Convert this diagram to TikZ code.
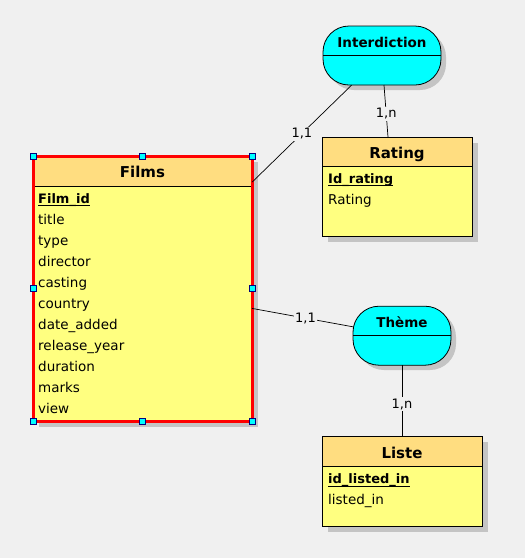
\documentclass[tikz,border=0pt]{standalone}
\usepackage{fontspec}
\setmainfont{DejaVu Sans}
\definecolor{bg}{RGB}{240,240,240}
\definecolor{hdr}{RGB}{255,221,128}
\definecolor{bodyc}{RGB}{255,255,128}
\definecolor{shd}{RGB}{196,196,196}
\definecolor{hnd}{RGB}{0,0,128}
\definecolor{aqua}{RGB}{0,255,255}
\tikzset{
  entity/.style={fill=bodyc, anchor=north west, inner sep=0pt, outer sep=0pt},
  assoc/.style={draw=black, line width=0.8pt, fill=aqua, rounded corners=26pt, inner sep=0pt, outer sep=0pt},
  row/.style={anchor=base west, inner sep=0pt, font=\fontsize{13.5}{16}\selectfont},
  keyrow/.style={anchor=base west, inner sep=0pt, font=\fontsize{13}{16}\selectfont\bfseries},
  ttl/.style={anchor=base, inner sep=0pt, font=\fontsize{15}{18}\selectfont\bfseries},
  attl/.style={anchor=base, inner sep=0pt, font=\fontsize{13.5}{16}\selectfont\bfseries},
  card/.style={fill=bg, inner sep=1.5pt, font=\fontsize{13}{16}\selectfont},
  link/.style={line width=0.7pt},
  handle/.style={draw=hnd, fill=aqua, line width=0.8pt, minimum size=6pt, inner sep=0pt}
}
\begin{document}
\begin{tikzpicture}[x=1pt,y=-1pt]
\fill[bg] (0,0) rectangle (525,558);
\useasboundingbox (0,0) rectangle (525,558);

% ---------- Films ----------
\fill[shd] (39,162) rectangle (258,427);
\node[entity, minimum width=219pt, minimum height=265pt] (films) at (33,156) {};
\fill[hdr] (films.north west) rectangle (252,186);
\draw[line width=0.8pt] (33,186) -- (252,186);
\node[ttl] (filmsT) at (142.5,177.5) {Films};
\node[keyrow] (fid) at (38,203) {Film\_id};
\draw[line width=0.9pt] ([yshift=-2.5pt]fid.base west) -- ([yshift=-2.5pt]fid.base east);
\foreach \t [count=\i] in {title,type,director,casting,country,date\_added,release\_year,duration,marks,view}
  \node[row] (fr\i) at (38,{203+21*\i}) {\t};
\draw[red, line width=3pt] (films.north west) rectangle (films.south east);
\foreach \a [count=\i] in {north west,north,north east,east,south east,south,south west,west}
  \node[handle] (h\i) at (films.\a) {};

% ---------- Rating ----------
\fill[shd] (328,143) rectangle (478,242);
\node[entity, minimum width=150pt, minimum height=99pt] (rating) at (322,137) {};
\fill[hdr] (rating.north west) rectangle (472,166);
\draw[line width=0.8pt] (322,166) -- (472,166);
\draw[line width=0.8pt] (rating.north west) rectangle (rating.south east);
\node[ttl] (ratingT) at (397,158.5) {Rating};
\node[keyrow] (rid) at (328,183) {Id\_rating};
\draw[line width=0.9pt] ([yshift=-2.5pt]rid.base west) -- ([yshift=-2.5pt]rid.base east);
\node[row] (rr1) at (328,204) {Rating};

% ---------- Liste ----------
\fill[shd] (328,442) rectangle (488,532);
\node[entity, minimum width=160pt, minimum height=90pt] (liste) at (322,436) {};
\fill[hdr] (liste.north west) rectangle (482,466);
\draw[line width=0.8pt] (322,466) -- (482,466);
\draw[line width=0.8pt] (liste.north west) rectangle (liste.south east);
\node[ttl] (listeT) at (402,458) {Liste};
\node[keyrow] (lid) at (328,483.5) {id\_listed\_in};
\draw[line width=0.9pt] ([yshift=-2.5pt]lid.base west) -- ([yshift=-2.5pt]lid.base east);
\node[row] (lr1) at (328,504.5) {listed\_in};

% ---------- Associations ----------
\fill[shd, rounded corners=26pt] (328,31) rectangle (446,90);
\node[assoc, minimum width=118pt, minimum height=59pt] (inter) at (382,55.5) {};
\draw[line width=0.8pt] (inter.west) -- (inter.east);
\node[attl] (interT) at (382,47.5) {Interdiction};

\fill[shd, rounded corners=26pt] (358,311) rectangle (456,370);
\node[assoc, minimum width=98pt, minimum height=59pt] (theme) at (402,335.7) {};
\draw[line width=0.8pt] (theme.west) -- (theme.east);
\node[attl] (themeT) at (402,327.5) {Thème};

% ---------- Links ----------
\draw[link] (inter) -- node[card, pos=0.5] (c1) {1,1} (films);
\draw[link] ([xshift=2pt]inter.south) -- node[card, pos=0.55] (c2) {1,n} ([xshift=-9pt]rating.north);
\draw[link] (films) -- node[card, pos=0.53] (c3) {1,1} (theme);
\draw[link] (theme) -- node[card, pos=0.55] (c4) {1,n} (liste);
\end{tikzpicture}
\end{document}
